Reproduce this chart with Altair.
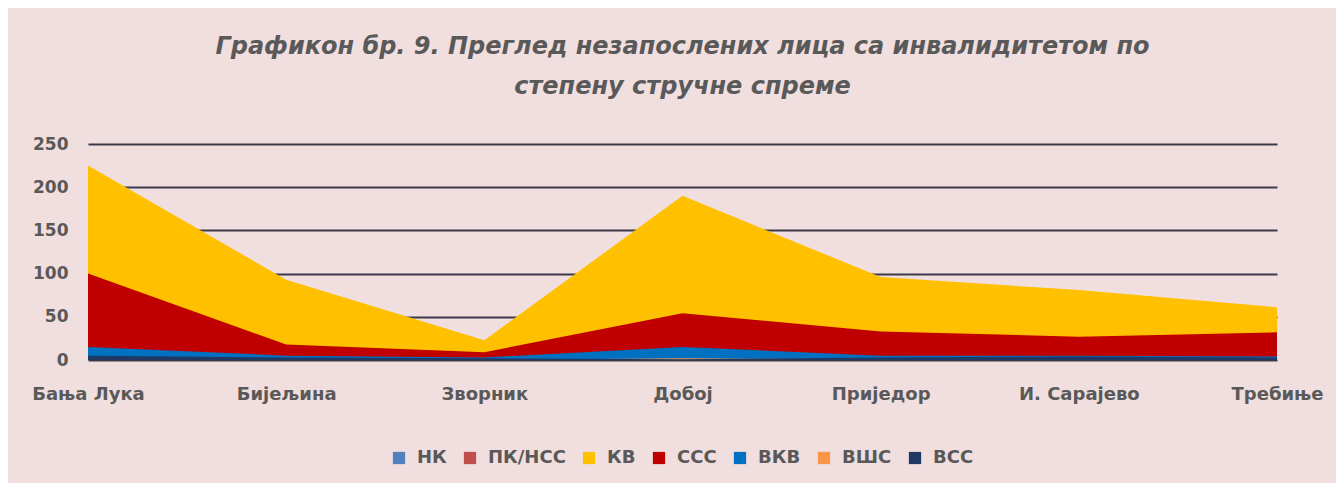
import altair as alt
import pandas as pd

cities = ["Бања Лука", "Бијељина", "Зворник", "Добој", "Приједор", "И. Сарајево", "Требиње"]
series = ["НК", "ПК/НСС", "КВ", "ССС", "ВКВ", "ВШС", "ВСС"]
colors = ["#4F81BD", "#C0504D", "#FFC000", "#C00000", "#0070C0", "#F79646", "#1F3864"]

nk = [40, 20, 8, 35, 20, 15, 12]
pk_nss = [10, 5, 2, 10, 5, 4, 3]
kv = [225, 93, 23, 190, 96, 81, 61]
sss = [100, 18, 9, 54, 33, 27, 32]
vkv = [15, 5, 3, 15, 5, 5, 4]
vss_h = [1, 1, 0, 2, 1, 1, 1]   # ВШС
vss = [5, 3, 2, 1, 3, 4, 3]     # ВСС

values = [nk, pk_nss, kv, sss, vkv, vss_h, vss]
rows = []
for si, (s, vals) in enumerate(zip(series, values)):
    for ci, (c, v) in enumerate(zip(cities, vals)):
        rows.append({"Град": c, "Серија": s, "Вредност": v, "ord": si})
df = pd.DataFrame(rows)

font = "DejaVu Sans"
gray = "#595959"

chart = alt.Chart(df).mark_area(opacity=1, interpolate="linear").encode(
    x=alt.X("Град:N", sort=cities, title=None,
            scale=alt.Scale(type="point", padding=0),
            axis=alt.Axis(labelAngle=0, ticks=False, domain=False, grid=False,
                          labelFont=font, labelFontSize=18, labelFontWeight="bold",
                          labelColor=gray, labelPadding=25)),
    y=alt.Y("Вредност:Q", stack=None, title=None,
            scale=alt.Scale(domain=[0, 250], nice=False),
            axis=alt.Axis(values=[0, 50, 100, 150, 200, 250], ticks=False, domain=False,
                          grid=True, gridColor="#3C3A4A", gridWidth=2,
                          labelFont=font, labelFontSize=17, labelFontWeight="bold",
                          labelColor=gray, labelPadding=20)),
    color=alt.Color("Серија:N", sort=series,
                    scale=alt.Scale(domain=series, range=colors),
                    legend=alt.Legend(title=None, orient="none", direction="horizontal",
                                      legendX=302, legendY=305, symbolType="square",
                                      symbolSize=150, symbolStrokeWidth=0,
                                      labelFont=font, labelFontSize=18, labelFontWeight="bold",
                                      labelColor=gray, columnPadding=14, labelOffset=9)),
    order=alt.Order("ord:Q"),
).properties(
    width=1189,
    height=216,
    padding={"left": 80, "top": 136, "right": 59, "bottom": 123},
    autosize="none",
    background="#F1DEDE",
    title=alt.TitleParams(
        text=["Графикон бр. 9. Преглед незапослених лица са инвалидитетом по",
              "степену стручне спреме"],
        font=font, fontSize=24, fontWeight="bold", fontStyle="italic", color=gray,
        anchor="middle", frame="group", offset=36, lineHeight=40),
).configure_view(stroke=None)

chart.save("out.html", embed_options={"renderer": "svg", "actions": False})
